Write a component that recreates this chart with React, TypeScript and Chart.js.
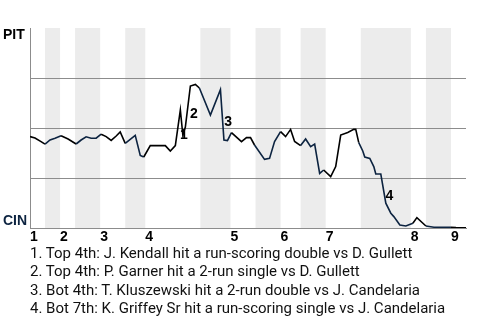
import React, { useEffect, useRef } from "react";
import { Chart, registerables } from "chart.js";

Chart.register(...registerables);

// Game progress (plate-appearance index) and PIT win probability (%)
const progress = [
  0, 1, 2.2, 3, 4, 5, 6.2, 7.6, 9.2, 10.2, 11.2, 12.2, 13.2, 14.2, 15.2, 16.2, 17.2, 18, 19, 20,
  21, 22, 22.7, 24, 27, 28, 29, 30, 30.5, 31, 32, 33, 33.8, 36, 38, 38.7, 39.4, 40.2, 42.2, 43.2,
  44, 44.8, 46.8, 47.8, 48.8, 50, 51, 52, 52.8, 54, 55, 56, 56.8, 57.8, 58.6, 60, 61, 62, 63.4, 64.6,
  65, 65.6, 66.4, 66.8, 67.8, 68.6, 69, 70, 71, 72, 72.6, 73.8, 75, 76.4, 77.2, 79, 80.6, 84, 85, 87,
];
const winProbPIT = [
  45.7, 45, 43.2, 41.9, 44, 44.9, 46.1, 44.5, 42, 44, 45.6, 44.9, 44.9, 46.9, 45.7, 43.8, 46, 48, 42.3, 44.3,
  46.3, 36.3, 35.5, 41.2, 41.2, 38.5, 41.2, 59, 46.5, 50.5, 71, 71.8, 70, 56.5, 69.2, 44, 43.7, 47.7, 43.2, 45.2,
  45.2, 41.5, 34.3, 34.8, 43.2, 48.2, 45.7, 49.3, 43.3, 41.2, 44.5, 40.7, 42, 27.3, 29, 25.7, 30.7, 46.5, 47.8, 49.3,
  49.3, 42.7, 38.5, 35.5, 34.8, 30.7, 27, 27, 12.4, 7.4, 5.7, 1.5, 1, 2.4, 5.2, 1, 0.4, 0.4, 0.25, 0.1,
];

// Bottom half-innings (CIN batting): [start, end] in plate appearances
const bottomHalves = [
  [3, 6], [9, 14], [19, 23], [34, 40], [45, 50], [54, 59], [66, 76], [79, 84],
];
const inningStarts = [0, 6, 14, 23, 40, 50, 59, 76, 84];
const inningLabels = ["1", "2", "3", "4", "5", "6", "7", "8", "9"];
const gameEnd = 87;

// Key plays: the progress value at which each swing segment begins
const keyPlayAt = [29, 31, 38, 70];
const keyPlayNotes = [
  "1. Top 4th: J. Kendall hit a run-scoring double vs D. Gullett",
  "2. Top 4th: P. Garner hit a 2-run single vs D. Gullett",
  "3. Bot 4th: T. Kluszewski hit a 2-run double vs J. Candelaria",
  "4. Bot 7th: K. Griffey Sr hit a run-scoring single vs J. Candelaria",
];

const awayTeam = "PIT";
const homeTeam = "CIN";

const NAVY = "#0C2340";
const GRID = "#8c8c8c";
const BAND = "#ececec";
const LABEL_FONT = "bold 14px 'Liberation Sans', Arial, sans-serif";

const isBottom = (x: number) => bottomHalves.some(([a, b]) => x >= a && x < b);

const bandsPlugin = {
  id: "bands",
  beforeDraw(chart: any) {
    const { ctx, chartArea, scales } = chart;
    const xs = scales.x;
    ctx.save();
    ctx.fillStyle = BAND;
    bottomHalves.forEach(([a, b]) => {
      const x0 = xs.getPixelForValue(a);
      const x1 = xs.getPixelForValue(b);
      ctx.fillRect(x0, chartArea.top, x1 - x0, chartArea.bottom - chartArea.top);
    });
    ctx.restore();
  },
};

const labelsPlugin = {
  id: "labels",
  afterDraw(chart: any) {
    const { ctx, chartArea, scales } = chart;
    ctx.save();
    ctx.font = LABEL_FONT;
    ctx.textBaseline = "alphabetic";
    ctx.textAlign = "left";
    ctx.fillStyle = "#000";
    ctx.fillText(awayTeam, 3, chartArea.top + 11);
    ctx.fillStyle = NAVY;
    ctx.fillText(homeTeam, 3, chartArea.bottom - 3.5);
    // key play numbers
    ctx.fillStyle = "#000";
    ctx.textAlign = "center";
    keyPlayAt.forEach((p, k) => {
      const i = progress.indexOf(p);
      if (i < 0 || i + 1 >= progress.length) return;
      const xm = (scales.x.getPixelForValue(progress[i]) + scales.x.getPixelForValue(progress[i + 1])) / 2;
      const ym = (scales.y.getPixelForValue(winProbPIT[i]) + scales.y.getPixelForValue(winProbPIT[i + 1])) / 2;
      ctx.fillText(String(k + 1), xm + 6, ym + 6 + 5);
    });
    ctx.restore();
  },
};

function WinProbChart() {
  const ref = useRef<HTMLCanvasElement | null>(null);
  useEffect(() => {
    if (!ref.current) return;
    const chart = new Chart(ref.current, {
      type: "line",
      data: {
        datasets: [
          {
            data: progress.map((x, i) => ({ x, y: winProbPIT[i] })),
            borderColor: "#000",
            borderWidth: 1.6,
            pointRadius: 0,
            tension: 0,
            fill: false,
            segment: {
              borderColor: (c: any) =>
                isBottom((c.p0.parsed.x + c.p1.parsed.x) / 2) ? NAVY : "#000",
            },
          } as any,
        ],
      },
      options: {
        responsive: false,
        animation: false,
        devicePixelRatio: 1,
        layout: { padding: { top: 28, right: 14, left: 0, bottom: 0 } },
        plugins: { legend: { display: false }, tooltip: { enabled: false } },
        scales: {
          x: {
            type: "linear",
            min: 0,
            max: gameEnd,
            grid: { display: false, drawTicks: false },
            border: { display: true, color: GRID, width: 1 },
            afterBuildTicks: (scale: any) => {
              scale.ticks = inningStarts.map((v) => ({ value: v }));
            },
            afterFit: (scale: any) => {
              scale.height = 22;
            },
            ticks: {
              autoSkip: false,
              maxRotation: 0,
              align: "start",
              padding: 1,
              color: "#000",
              font: { family: "'Liberation Sans', Arial, sans-serif", size: 14, weight: "bold" },
              callback: (v: any) => {
                const k = inningStarts.indexOf(Number(v));
                return k >= 0 ? inningLabels[k] : "";
              },
            },
          },
          y: {
            min: 0,
            max: 100,
            afterFit: (scale: any) => {
              scale.width = 30;
            },
            ticks: { stepSize: 25, display: false },
            grid: {
              drawTicks: false,
              color: (c: any) => (c.tick && (c.tick.value === 100 || c.tick.value === 0) ? "rgba(0,0,0,0)" : GRID),
              lineWidth: 1,
            },
            border: { display: true, color: GRID, width: 1 },
          },
        },
      } as any,
      plugins: [bandsPlugin, labelsPlugin],
    });
    return () => chart.destroy();
  }, []);
  return (
    <canvas
      ref={ref}
      width={480}
      height={250}
      style={{ position: "absolute", left: 0, top: 0, width: 480, height: 250 }}
    />
  );
}

export default function App() {
  return (
    <div
      style={{
        position: "fixed",
        left: 0,
        top: 0,
        width: 480,
        height: 320,
        background: "#fff",
        overflow: "hidden",
      }}
    >
      <WinProbChart />
      <div
        style={{
          position: "absolute",
          left: 30,
          top: 244,
          fontFamily: "Roboto, 'Liberation Sans', Arial, sans-serif",
          fontSize: 15,
          lineHeight: "18.3px",
          color: "#111",
          whiteSpace: "nowrap",
        }}
      >
        {keyPlayNotes.map((t) => (
          <div key={t}>{t}</div>
        ))}
      </div>
    </div>
  );
}
